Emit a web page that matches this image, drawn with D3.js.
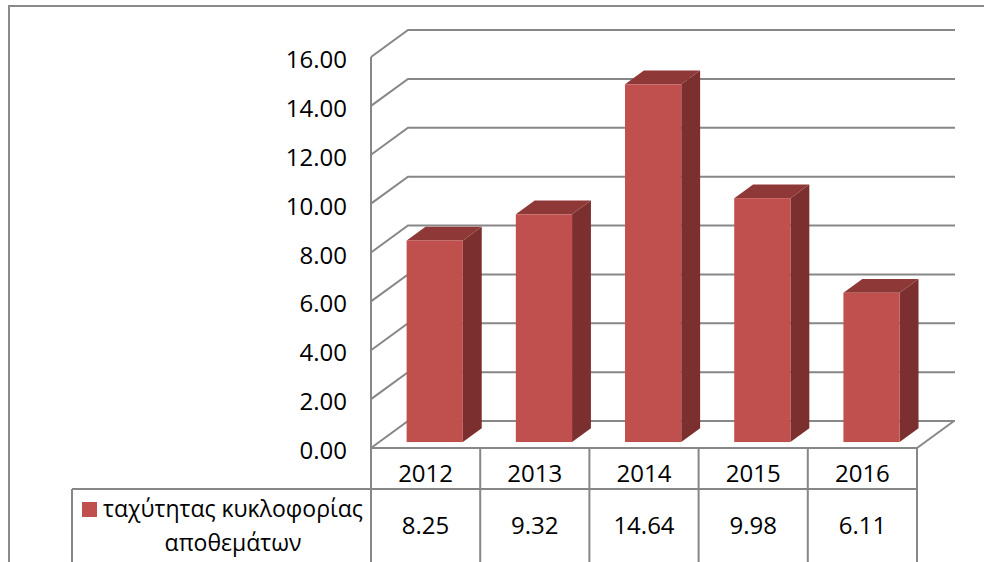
<!DOCTYPE html>
<html>
<head>
<meta charset="utf-8">
<script src="https://cdn.jsdelivr.net/npm/d3@7"></script>
<style>
  html, body { margin: 0; padding: 0; background: #fff; }
  svg { display: block; }
  text { font-family: "Open Sans", "Noto Sans", sans-serif; fill: #000; }
</style>
</head>
<body>
<svg id="chart" width="984" height="562"></svg>
<script>
// ---- data ----
const categories = ["2012", "2013", "2014", "2015", "2016"];
const values = [8.25, 9.32, 14.64, 9.98, 6.11];
const valueLabels = ["8.25", "9.32", "14.64", "9.98", "6.11"];
const yTicks = [0, 2, 4, 6, 8, 10, 12, 14, 16];
const seriesName = ["ταχύτητας κυκλοφορίας", "αποθεμάτων"];

// ---- layout ----
const W = 984, H = 562;
const left = 371, right = 917, floorY = 448, topY = 57;
const depthX = 37, depthY = -27;      // back-wall offset
const backRight = 955;
const barD1 = 0.22, barD2 = 0.73;     // bar depth range (fraction of floor depth)
const gridColor = "#878787";
const frontColor = "#C0504D", topColor = "#8E3937", sideColor = "#7B2F2E";
const fontSize = 24, legendFont = 23;

const svg = d3.select("#chart");
svg.append("rect").attr("width", W).attr("height", H).attr("fill", "#fff");

// outer frame
svg.append("rect").attr("x", 9).attr("y", 6).attr("width", W + 20).attr("height", H + 20)
  .attr("fill", "none").attr("stroke", "#8a8a8a").attr("stroke-width", 2);

const x = d3.scaleBand().domain(categories).range([left, right]);
const y = d3.scaleLinear().domain([0, 16]).range([floorY, topY]);

// back wall gridlines with left-wall diagonals
const g = svg.append("g");
yTicks.forEach(t => {
  const yf = y(t);
  g.append("path")
    .attr("d", `M${left},${yf} L${left + depthX},${yf + depthY} L${backRight},${yf + depthY}`)
    .attr("fill", "none").attr("stroke", gridColor).attr("stroke-width", 2);
  g.append("text").attr("x", 347).attr("y", yf + 11)
    .attr("text-anchor", "end").attr("font-size", fontSize).text(t.toFixed(2));
});
// left wall vertical
g.append("line").attr("x1", left).attr("x2", left).attr("y1", y(16)).attr("y2", floorY)
  .attr("stroke", gridColor).attr("stroke-width", 2);
// floor right edge
g.append("line").attr("x1", right).attr("y1", floorY).attr("x2", right + depthX).attr("y2", floorY + depthY)
  .attr("stroke", gridColor).attr("stroke-width", 2);
g.append("line").attr("x1", right + depthX).attr("y1", floorY + depthY).attr("x2", backRight).attr("y2", floorY + depthY)
  .attr("stroke", gridColor).attr("stroke-width", 2);

// bars
const barW = x.bandwidth() * 0.515;
const bars = svg.append("g");
categories.forEach((c, i) => {
  const v = values[i];
  const cx = x(c) + x.bandwidth() / 2;
  const x0 = cx - barW / 2 + depthX * barD1 + 1;
  const x1 = x0 + barW;
  const yb = y(0) + depthY * barD1;
  const yt = y(v) + depthY * barD1;
  const dx = depthX * (barD2 - barD1), dy = depthY * (barD2 - barD1);
  bars.append("path")
    .attr("d", `M${x1},${yb} L${x1 + dx},${yb + dy} L${x1 + dx},${yt + dy} L${x1},${yt} Z`)
    .attr("fill", sideColor);
  bars.append("path")
    .attr("d", `M${x0},${yt} L${x0 + dx},${yt + dy} L${x1 + dx},${yt + dy} L${x1},${yt} Z`)
    .attr("fill", topColor);
  bars.append("rect").attr("x", x0).attr("y", yt).attr("width", barW).attr("height", yb - yt)
    .attr("fill", frontColor);
});

// data table
const tbl = svg.append("g");
const rowY = 489, tableBottom = H + 10, legendLeft = 72;
tbl.append("line").attr("x1", left).attr("x2", right).attr("y1", floorY).attr("y2", floorY)
  .attr("stroke", gridColor).attr("stroke-width", 2);
tbl.append("line").attr("x1", legendLeft).attr("x2", right).attr("y1", rowY).attr("y2", rowY)
  .attr("stroke", gridColor).attr("stroke-width", 2);
tbl.append("line").attr("x1", legendLeft).attr("x2", legendLeft).attr("y1", rowY).attr("y2", tableBottom)
  .attr("stroke", gridColor).attr("stroke-width", 2);
const bounds = categories.map(c => x(c)).concat([right]);
bounds.forEach(bx => {
  tbl.append("line").attr("x1", bx).attr("x2", bx).attr("y1", floorY).attr("y2", tableBottom)
    .attr("stroke", gridColor).attr("stroke-width", 2);
});
categories.forEach((c, i) => {
  const cx = x(c) + x.bandwidth() / 2;
  tbl.append("text").attr("x", cx).attr("y", 482).attr("text-anchor", "middle")
    .attr("font-size", fontSize).text(c);
  tbl.append("text").attr("x", cx).attr("y", 534).attr("text-anchor", "middle")
    .attr("font-size", fontSize).text(valueLabels[i]);
});
// legend
tbl.append("rect").attr("x", 82).attr("y", 502).attr("width", 15).attr("height", 15).attr("fill", frontColor);
tbl.append("text").attr("x", 233).attr("y", 517).attr("text-anchor", "middle")
  .attr("font-size", legendFont).text(seriesName[0]);
tbl.append("text").attr("x", 233).attr("y", 551).attr("text-anchor", "middle")
  .attr("font-size", legendFont).text(seriesName[1]);
</script>
</body>
</html>
